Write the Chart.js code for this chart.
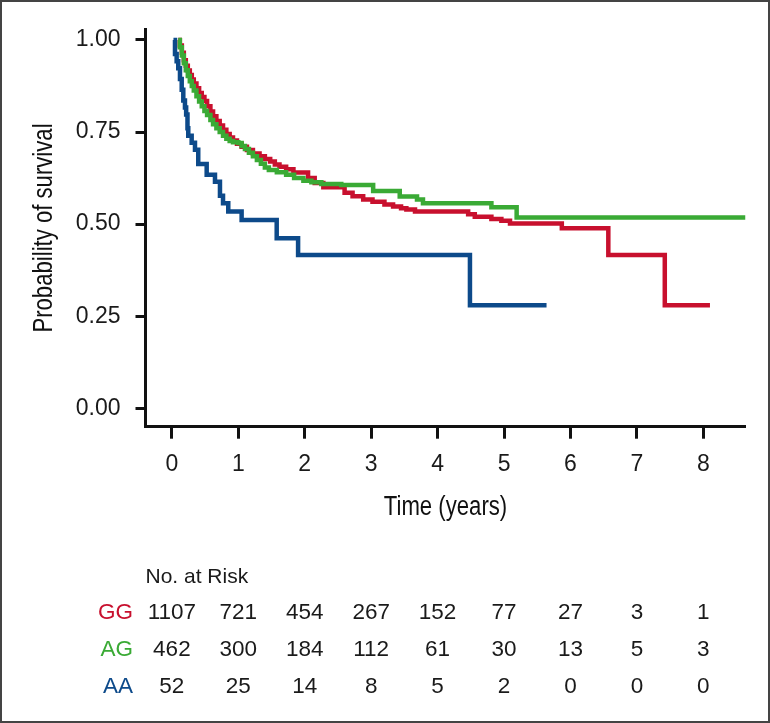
<!DOCTYPE html>
<html>
<head>
<meta charset="utf-8">
<script src="https://cdn.jsdelivr.net/npm/chart.js@4/dist/chart.umd.min.js"></script>
<style>
  html, body { margin: 0; padding: 0; background: #fff; }
  #wrap { width: 770px; height: 723px; position: relative; }
</style>
</head>
<body>
<div id="wrap"><canvas id="kmChart"></canvas></div>
<script>
// Kaplan-Meier estimates (time in years, survival probability)
var ggTime = [0.096, 0.12, 0.15, 0.18, 0.21, 0.24, 0.27, 0.30, 0.33, 0.37, 0.41, 0.45, 0.49, 0.53, 0.58,
              0.62, 0.67, 0.72, 0.77, 0.82, 0.87, 0.92, 0.98, 1.05, 1.13, 1.22, 1.32, 1.40, 1.48, 1.55,
              1.62, 1.72, 1.83, 2.05, 2.15, 2.28, 2.60, 2.72, 2.88, 3.02, 3.20, 3.33, 3.45, 3.53, 3.66,
              4.46, 4.56, 4.81, 4.96, 5.09, 5.87, 6.57, 7.42, 8.10];
var ggSurv = [1.000, 0.985, 0.965, 0.945, 0.930, 0.917, 0.905, 0.893, 0.882, 0.869, 0.856, 0.845, 0.834, 0.820, 0.806,
              0.793, 0.780, 0.768, 0.756, 0.745, 0.735, 0.727, 0.718, 0.710, 0.701, 0.692, 0.684, 0.677, 0.670, 0.662,
              0.656, 0.649, 0.640, 0.625, 0.612, 0.600, 0.585, 0.576, 0.567, 0.561, 0.553, 0.548, 0.543, 0.540, 0.534,
              0.527, 0.520, 0.514, 0.509, 0.502, 0.489, 0.416, 0.280, 0.280];

var agTime = [0.096, 0.12, 0.15, 0.18, 0.21, 0.24, 0.27, 0.30, 0.33, 0.37, 0.41, 0.45, 0.49, 0.53, 0.58,
              0.62, 0.67, 0.72, 0.77, 0.82, 0.87, 0.92, 1.00, 1.05, 1.10, 1.16, 1.22, 1.28, 1.34, 1.40,
              1.46, 1.58, 1.72, 1.84, 1.98, 2.10, 2.25, 2.55, 3.03, 3.43, 3.69, 3.78, 4.81, 5.19, 8.635];
var agSurv = [1.000, 0.980, 0.958, 0.937, 0.918, 0.902, 0.888, 0.875, 0.863, 0.847, 0.833, 0.820, 0.807, 0.796, 0.783,
              0.771, 0.760, 0.750, 0.740, 0.732, 0.726, 0.722, 0.720, 0.712, 0.704, 0.694, 0.684, 0.674, 0.664, 0.654,
              0.647, 0.641, 0.634, 0.625, 0.618, 0.614, 0.609, 0.606, 0.590, 0.575, 0.567, 0.557, 0.546, 0.518, 0.518];

var aaTime = [0.024, 0.047, 0.072, 0.096, 0.122, 0.148, 0.172, 0.197, 0.215, 0.235, 0.247, 0.298, 0.348, 0.397,
              0.524, 0.649, 0.724, 0.770, 0.849, 1.05, 1.578, 1.90, 4.487, 5.64];
var aaSurv = [1.000, 0.962, 0.942, 0.923, 0.894, 0.865, 0.836, 0.817, 0.798, 0.760, 0.740, 0.721, 0.702, 0.663,
              0.634, 0.615, 0.577, 0.557, 0.534, 0.511, 0.462, 0.416, 0.280, 0.280];

// axis ticks and titles
var xTicks = [0, 1, 2, 3, 4, 5, 6, 7, 8];
var yTicks = [0, 0.25, 0.5, 0.75, 1];
var xTitle = 'Time (years)';
var yTitle = 'Probability of survival';

// number at risk table
var riskTitle = 'No. at Risk';
var riskTimes = [0, 1, 2, 3, 4, 5, 6, 7, 8];
var riskGroups = ['GG', 'AG', 'AA'];
var riskGG = [1107, 721, 454, 267, 152, 77, 27, 3, 1];
var riskAG = [462, 300, 184, 112, 61, 30, 13, 5, 3];
var riskAA = [52, 25, 14, 8, 5, 2, 0, 0, 0];

var colGG = '#c8102e';
var colAG = '#3aaa35';
var colAA = '#0d4a8a';

var sansFont = '"Liberation Sans", Arial, sans-serif';

function toPoints(times, surv) {
    return times.map(function (t, i) { return { x: t, y: surv[i] }; });
}

// condensed axis titles, the number-at-risk table and the thin frame
var extrasPlugin = {
    id: 'kmExtras',
    afterDraw: function (chart) {
        var ctx = chart.ctx;
        var area = chart.chartArea;
        var xs = chart.scales.x;
        var rows = [riskGG, riskAG, riskAA];
        var colors = [colGG, colAG, colAA];
        var baselines = [619, 656, 692.5];

        ctx.save();
        ctx.fillStyle = '#111';
        ctx.textBaseline = 'alphabetic';
        ctx.font = '27px ' + sansFont;

        // x title (condensed look)
        ctx.save();
        ctx.translate((area.left + area.right) / 2, 515);
        ctx.scale(0.82, 1);
        ctx.textAlign = 'center';
        ctx.fillText(xTitle, 0, 0);
        ctx.restore();

        // y title, rotated
        ctx.save();
        ctx.translate(52.3, (area.top + area.bottom) / 2);
        ctx.rotate(-Math.PI / 2);
        ctx.scale(0.82, 1);
        ctx.textAlign = 'center';
        ctx.fillText(yTitle, 0, 0);
        ctx.restore();

        // risk table
        ctx.fillStyle = '#1a1a1a';
        ctx.font = '21px ' + sansFont;
        ctx.textAlign = 'left';
        ctx.fillText(riskTitle, area.left, 582.5);

        ctx.font = '22.5px ' + sansFont;
        rows.forEach(function (row, r) {
            ctx.textAlign = 'right';
            ctx.fillStyle = colors[r];
            ctx.fillText(riskGroups[r], 133, baselines[r]);
            ctx.textAlign = 'center';
            ctx.fillStyle = '#1a1a1a';
            row.forEach(function (n, i) {
                ctx.fillText(String(n), xs.getPixelForValue(riskTimes[i]), baselines[r]);
            });
        });

        ctx.strokeStyle = '#444';
        ctx.lineWidth = 2;
        ctx.strokeRect(1, 1, chart.width - 2, chart.height - 2);
        ctx.restore();
    }
};

var lineStyle = {
    stepped: true,
    fill: false,
    pointRadius: 0,
    pointHoverRadius: 0,
    borderWidth: 4.5,
    borderCapStyle: 'butt',
    borderJoinStyle: 'miter'
};

var ctxKM = document.getElementById('kmChart').getContext('2d');

var kmChart = new Chart(ctxKM, {
    type: 'line',
    data: {
        datasets: [
            Object.assign({ label: 'AG', data: toPoints(agTime, agSurv), borderColor: colAG, order: 0 }, lineStyle),
            Object.assign({ label: 'GG', data: toPoints(ggTime, ggSurv), borderColor: colGG, order: 1 }, lineStyle),
            Object.assign({ label: 'AA', data: toPoints(aaTime, aaSurv), borderColor: colAA, order: 2 }, lineStyle)
        ]
    },
    options: {
        responsive: true,
        maintainAspectRatio: false,
        animation: false,
        layout: { padding: { top: 29.3, right: 24.5, bottom: 0, left: 0 } },
        plugins: {
            legend: { display: false },
            tooltip: { enabled: false }
        },
        scales: {
            x: {
                type: 'linear',
                min: -0.397,
                max: 8.635,
                afterBuildTicks: function (scale) {
                    scale.ticks = xTicks.map(function (v) { return { value: v }; });
                },
                afterFit: function (scale) { scale.height = 296.3; },
                border: { display: true, width: 3, color: '#111' },
                grid: { drawOnChartArea: false, drawTicks: true, tickLength: 12, tickWidth: 3, tickColor: '#111' },
                ticks: {
                    padding: 12,
                    color: '#1a1a1a',
                    font: { family: sansFont, size: 23 },
                    callback: function (v) { return String(v); }
                }
            },
            y: {
                type: 'linear',
                min: -0.05,
                max: 1.029,
                afterBuildTicks: function (scale) {
                    scale.ticks = yTicks.map(function (v) { return { value: v }; });
                },
                afterFit: function (scale) { scale.width = 145.5; },
                border: { display: true, width: 3, color: '#111' },
                grid: { drawOnChartArea: false, drawTicks: true, tickLength: 10, tickWidth: 3, tickColor: '#111' },
                ticks: {
                    padding: 15,
                    color: '#1a1a1a',
                    font: { family: sansFont, size: 23 },
                    callback: function (v) { return Number(v).toFixed(2); }
                }
            }
        }
    },
    plugins: [extrasPlugin]
});
</script>
</body>
</html>
